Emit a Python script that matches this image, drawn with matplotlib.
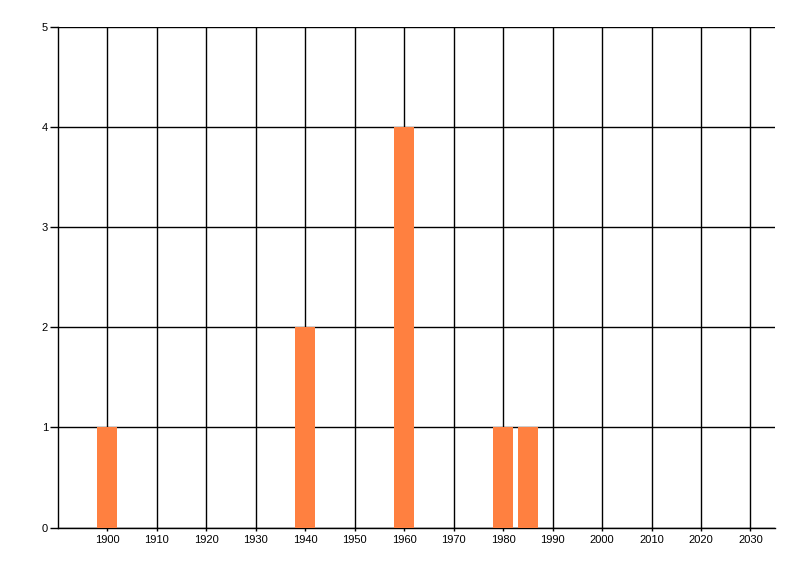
import matplotlib
matplotlib.use("Agg")
import matplotlib.pyplot as plt

years = [1900, 1940, 1960, 1980, 1985]
counts = [1, 2, 4, 1, 1]
x_ticks = list(range(1900, 2031, 10))
y_ticks = [0, 1, 2, 3, 4, 5]

plt.rcParams['font.family'] = ['Liberation Sans', 'DejaVu Sans']

fig = plt.figure(figsize=(8, 5.76), dpi=100)
ax = fig.add_axes([0.0722, 0.0839, 0.969 - 0.0722, 0.9536 - 0.0839])

ax.bar(years, counts, width=4, color='#FF8040', zorder=3, linewidth=0)

ax.set_xlim(1890, 2035)
ax.set_ylim(0, 5)
ax.set_xticks(x_ticks)
ax.set_xticklabels([str(t) for t in x_ticks])
ax.set_yticks(y_ticks)
ax.set_yticklabels([str(t) for t in y_ticks])

ax.grid(True, color='black', linewidth=1, zorder=0)
ax.set_axisbelow(True)
for s in ['top', 'right']:
    ax.spines[s].set_visible(False)
for s in ['left', 'bottom']:
    ax.spines[s].set_color('black')
    ax.spines[s].set_linewidth(1)

ax.tick_params(axis='y', length=6, width=1, labelsize=8, pad=1)
ax.tick_params(axis='x', length=2, width=1, labelsize=8, pad=3)

fig.savefig('out.png', dpi=100)
